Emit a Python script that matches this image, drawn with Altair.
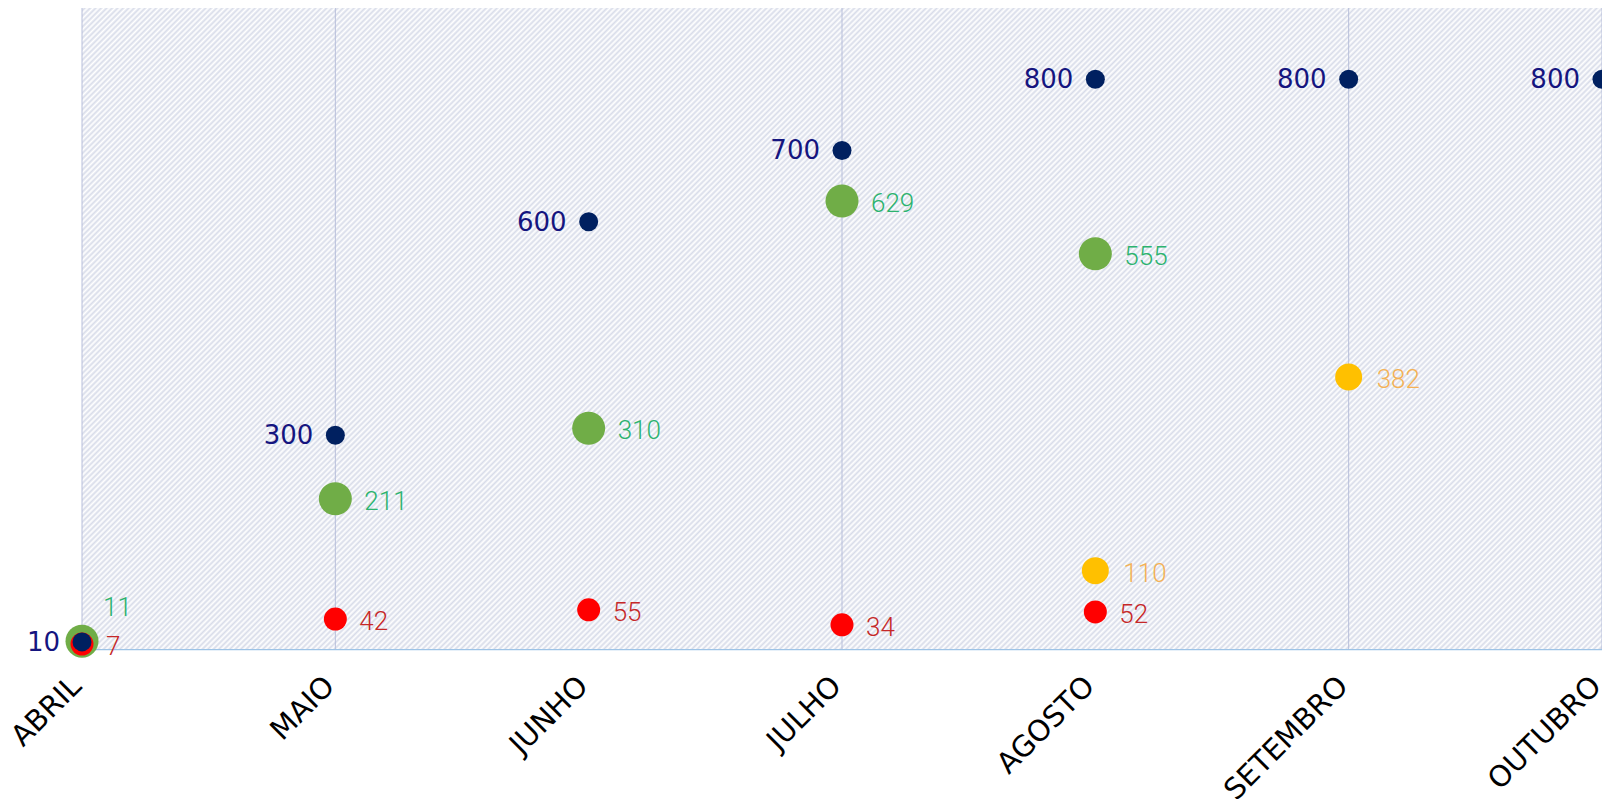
import altair as alt
import pandas as pd

months = ["ABRIL", "MAIO", "JUNHO", "JULHO", "AGOSTO", "SETEMBRO", "OUTUBRO"]
meta = [10, 300, 600, 700, 800, 800, 800]
realizado = [11, 211, 310, 629, 555, None, None]
perdas = [7, 42, 55, 34, 52, None, None]
projecao = [None, None, None, None, 110, 382, None]
grid_months = ["ABRIL", "MAIO", "JULHO", "SETEMBRO", "OUTUBRO"]

rows = []
for name, vals in [("meta", meta), ("realizado", realizado), ("perdas", perdas), ("projecao", projecao)]:
    for m, v in zip(months, vals):
        if v is not None:
            rows.append({"serie": name, "mes": m, "v": v})
df = pd.DataFrame(rows)

W, H = 1520, 641

# hatch background via striped linear gradient (stripes along x+y = const)
k = H / W
a = (1 + k) / (1 + k * k)
period = 5.5
n = int((W + H) / period) + 1
stops = []
for i in range(n):
    o1 = i * period / (W + H)
    o2 = (i + 0.5) * period / (W + H)
    if o1 <= 1:
        stops.append(alt.GradientStop(offset=o1, color="#ffffff"))
    if o2 <= 1:
        stops.append(alt.GradientStop(offset=o2, color="#d8dce9"))
hatch = alt.LinearGradient(gradient="linear", stops=stops, x1=0, y1=0, x2=a, y2=a * k)

bg = alt.Chart(alt.Data(values=[{"b": 1}])).mark_rect(fill=hatch, strokeWidth=0).encode(
    x=alt.value(0), x2=alt.value(W), y=alt.value(0), y2=alt.value(H)
)

xsc = alt.Scale(domain=months, type="point", padding=0)
ysc = alt.Scale(domain=[0, 900], nice=False, zero=True)

xaxis = alt.Axis(
    title=None, labelAngle=-45, labelAlign="right", labelBaseline="middle",
    labelFont="DejaVu Sans", labelFontSize=29, labelColor="black",
    labelPadding=32, labelOffset=-6, ticks=False, domainColor="#9DC3E6", domainWidth=1.5,
    grid=False, labelOverlap=False,
)

X = alt.X("mes:N", scale=xsc, axis=xaxis)
Y = alt.Y("v:Q", scale=ysc, axis=None)

grid = alt.Chart(pd.DataFrame({"mes": grid_months})).mark_rule(color="#B7BEDA", strokeWidth=1).encode(x=X)

base = alt.Chart(df)

def pts(serie, color, size):
    return base.transform_filter(alt.datum.serie == serie).mark_circle(
        color=color, size=size, opacity=1
    ).encode(x=X, y=Y)

p_green = pts("realizado", "#70AD47", 1089)
p_yellow = pts("projecao", "#FFC000", 729)
p_red = pts("perdas", "#FF0000", 529)
p_navy = pts("meta", "#002060", 361)

lblfont = dict(font="Roboto", fontWeight=300, fontSize=26)

t_navy = base.transform_filter(alt.datum.serie == "meta").mark_text(
    align="right", baseline="middle", dx=-22, dy=1, font="DejaVu Sans", fontSize=26, color="#15157F"
).encode(x=X, y=Y, text="v:Q")

t_green = base.transform_filter(
    (alt.datum.serie == "realizado") & (alt.datum.mes != "ABRIL")
).mark_text(align="left", baseline="middle", dx=29, dy=3, color="#2BB36E", **lblfont).encode(
    x=X, y=Y, text="v:Q"
)
t_green0 = base.transform_filter(
    (alt.datum.serie == "realizado") & (alt.datum.mes == "ABRIL")
).mark_text(align="left", baseline="middle", dx=21, dy=-33, color="#2BB36E", **lblfont).encode(
    x=X, y=Y, text="v:Q"
)
t_red = base.transform_filter(alt.datum.serie == "perdas").mark_text(
    align="left", baseline="middle", dx=24, dy=3, color="#C62828", **lblfont
).encode(x=X, y=Y, text="v:Q")
t_yellow = base.transform_filter(alt.datum.serie == "projecao").mark_text(
    align="left", baseline="middle", dx=28, dy=3, color="#F4B154", **lblfont
).encode(x=X, y=Y, text="v:Q")

chart = alt.layer(
    bg, grid, p_green, p_yellow, p_red, p_navy, t_navy, t_green, t_green0, t_red, t_yellow
).properties(
    width=W, height=H,
    autosize=alt.AutoSizeParams(type="none"),
    padding={"left": 74, "top": 0, "right": 0, "bottom": 150},
    background="white",
).configure_view(stroke=None)

chart.save("out.html", embed_options={"renderer": "svg", "actions": False})
